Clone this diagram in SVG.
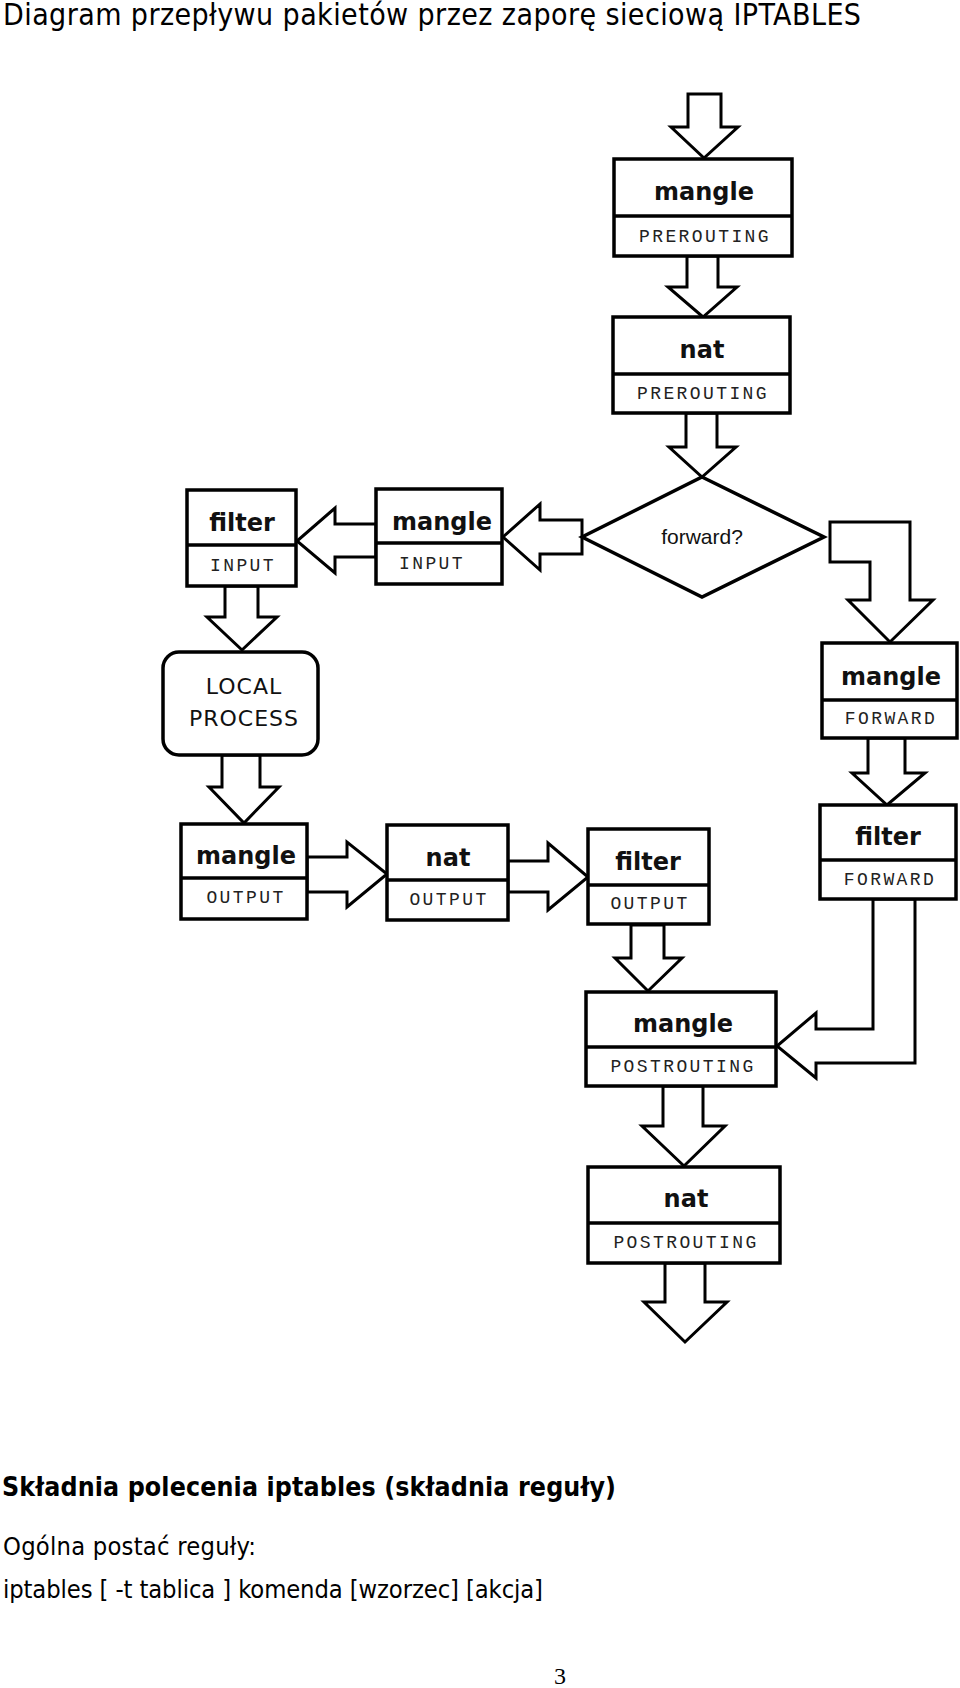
<svg xmlns="http://www.w3.org/2000/svg" width="960" height="1688" viewBox="0 0 960 1688">
<style>
.box{fill:#fff;stroke:#000;stroke-width:3.5}
.div{stroke:#000;stroke-width:3.5}
.arr{fill:#fff;stroke:#000;stroke-width:3;stroke-linejoin:miter}
.nm{font-family:"DejaVu Sans",sans-serif;font-weight:bold;font-size:24px;text-anchor:middle;fill:#111}
.ch{font-family:"Liberation Mono","Courier New",monospace;font-size:18px;letter-spacing:2.4px;text-anchor:middle;fill:#222}
.lp{font-family:"DejaVu Sans",sans-serif;font-size:22px;letter-spacing:1px;text-anchor:middle;fill:#111}
.txt{font-family:"DejaVu Sans Condensed","DejaVu Sans",sans-serif;fill:#000}
</style>
<rect width="960" height="1688" fill="#fff"/>
<text class="txt" x="3" y="25" font-size="30" textLength="858">Diagram przepływu pakietów przez zaporę sieciową IPTABLES</text>

<g id="connectors">
<polygon class="arr" points="688,94 721,94 721,127 738,127 704,158 671,127 688,127"/>
<polygon class="arr" points="687,256 718,256 718,287 737,287 703,317 668,287 687,287"/>
<polygon class="arr" points="686,413 717,413 717,447 736,447 702,477 669,447 686,447"/>
<polygon class="arr" points="582,520 582,554 540,554 540,570 503,537 540,504 540,520"/>
<polygon class="arr" points="376,524 376,557 335,557 335,573 297,541 335,508 335,524"/>
<polygon class="arr" points="225,586 258,586 258,617 277,617 242,650 207,617 225,617"/>
<polygon class="arr" points="222,755 260,755 260,787 279,787 244,823 209,787 222,787"/>
<polygon class="arr" points="307,857 347,857 347,842 387,874 347,907 347,892 307,892"/>
<polygon class="arr" points="508,861 548,861 548,843 588,877 548,910 548,892 508,892"/>
<polygon class="arr" points="631,925 664,925 664,958 682,958 648,991 615,958 631,958"/>
<polygon class="arr" points="830,522 910,522 910,600 933,600 890,642 848,600 870,600 870,562 830,562"/>
<polygon class="arr" points="868,738 905,738 905,773 925,773 887,805 852,773 868,773"/>
<polygon class="arr" points="873,899 873,1029 816,1029 816,1013 777,1046 816,1078 816,1063 915,1063 915,899"/>
<polygon class="arr" points="663,1086 703,1086 703,1126 725,1126 684,1166 642,1126 663,1126"/>
<polygon class="arr" points="665,1263 705,1263 705,1302 727,1302 685,1342 644,1302 665,1302"/>
</g>

<g id="mangle-prerouting">
<rect class="box" x="614" y="159" width="178" height="97"/>
<line class="div" x1="614" y1="216" x2="792" y2="216"/>
<text class="nm" x="704" y="200">mangle</text>
<text class="ch" x="705" y="242">PREROUTING</text>
</g>
<g id="nat-prerouting">
<rect class="box" x="613" y="317" width="177" height="96"/>
<line class="div" x1="613" y1="374" x2="790" y2="374"/>
<text class="nm" x="702" y="358">nat</text>
<text class="ch" x="703" y="399">PREROUTING</text>
</g>
<g id="forward-decision">
<polygon class="box" points="702,477 824,537 702,597 582,537"/>
<text x="702" y="544" font-family="Liberation Sans, Arial, sans-serif" font-size="21" text-anchor="middle" fill="#111">forward?</text>
</g>
<g id="filter-input">
<rect class="box" x="187" y="490" width="109" height="96"/>
<line class="div" x1="187" y1="545" x2="296" y2="545"/>
<text class="nm" x="242" y="531">filter</text>
<text class="ch" x="243" y="571">INPUT</text>
</g>
<g id="mangle-input">
<rect class="box" x="376" y="489" width="126" height="95"/>
<line class="div" x1="376" y1="543" x2="502" y2="543"/>
<text class="nm" x="442" y="530">mangle</text>
<text class="ch" x="432" y="569">INPUT</text>
</g>
<g id="local-process">
<rect class="box" x="163" y="652" width="155" height="103" rx="16"/>
<text class="lp" x="244" y="694">LOCAL</text>
<text class="lp" x="244" y="726">PROCESS</text>
</g>
<g id="mangle-output">
<rect class="box" x="181" y="824" width="126" height="95"/>
<line class="div" x1="181" y1="878" x2="307" y2="878"/>
<text class="nm" x="246" y="864">mangle</text>
<text class="ch" x="246" y="903">OUTPUT</text>
</g>
<g id="nat-output">
<rect class="box" x="387" y="825" width="121" height="95"/>
<line class="div" x1="387" y1="880" x2="508" y2="880"/>
<text class="nm" x="448" y="866">nat</text>
<text class="ch" x="449" y="905">OUTPUT</text>
</g>
<g id="filter-output">
<rect class="box" x="588" y="829" width="121" height="95"/>
<line class="div" x1="588" y1="885" x2="709" y2="885"/>
<text class="nm" x="648" y="870">filter</text>
<text class="ch" x="650" y="909">OUTPUT</text>
</g>
<g id="mangle-forward">
<rect class="box" x="822" y="643" width="135" height="95"/>
<line class="div" x1="822" y1="700" x2="957" y2="700"/>
<text class="nm" x="891" y="685">mangle</text>
<text class="ch" x="891" y="724">FORWARD</text>
</g>
<g id="filter-forward">
<rect class="box" x="820" y="805" width="136" height="94"/>
<line class="div" x1="820" y1="860" x2="956" y2="860"/>
<text class="nm" x="888" y="845">filter</text>
<text class="ch" x="890" y="885">FORWARD</text>
</g>
<g id="mangle-postrouting">
<rect class="box" x="586" y="992" width="190" height="94"/>
<line class="div" x1="586" y1="1047" x2="776" y2="1047"/>
<text class="nm" x="683" y="1032">mangle</text>
<text class="ch" x="683" y="1072">POSTROUTING</text>
</g>
<g id="nat-postrouting">
<rect class="box" x="588" y="1167" width="192" height="96"/>
<line class="div" x1="588" y1="1223" x2="780" y2="1223"/>
<text class="nm" x="686" y="1207">nat</text>
<text class="ch" x="686" y="1248">POSTROUTING</text>
</g>

<text class="txt" x="2" y="1496" font-size="26.5" font-weight="bold" textLength="614">Składnia polecenia iptables (składnia reguły)</text>
<text class="txt" x="3" y="1555" font-size="25.3" textLength="253">Ogólna postać reguły:</text>
<text class="txt" x="3" y="1598" font-size="25.3" textLength="540">iptables [ -t tablica ] komenda [wzorzec] [akcja]</text>
<text x="560" y="1684" font-family="Liberation Serif, serif" font-size="24" text-anchor="middle" fill="#000">3</text>
</svg>
